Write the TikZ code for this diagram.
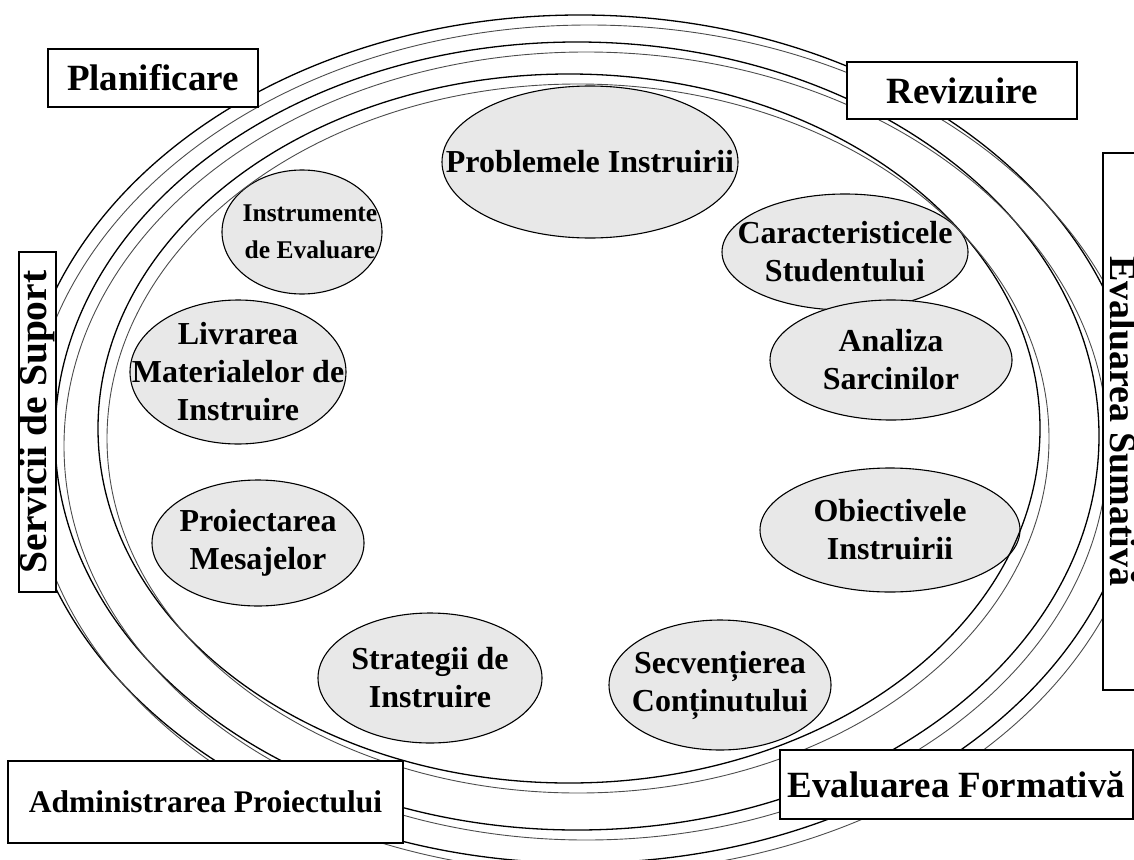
\documentclass[tikz,border=0pt]{standalone}
\usepackage{fontspec}
\setmainfont{Liberation Serif}
\usetikzlibrary{shapes.geometric,positioning}

\begin{document}
\begin{tikzpicture}[x=1pt,y=-1pt,
    stage/.style={draw,line width=1.1pt,fill=gray!18},
    stxt/.style={inner sep=0pt,align=center,
                 font=\bfseries\fontsize{32}{38}\selectfont},
    tag/.style={draw,line width=1.1pt,fill=white,inner sep=0pt,align=center,
                font=\bfseries\fontsize{37}{40}\selectfont},
    ring/.style={line width=1.3pt},
    shade/.style={line width=0.9pt,black!70},
  ]
  \useasboundingbox (0,0) rectangle (1134,859);

  %--- stages of the cycle ---
  \draw[stage] (590,162) ellipse [x radius=148pt, y radius=76pt]
    node[stxt] (prob) {Problemele Instruirii};
  \draw[stage] (845,252) ellipse [x radius=123pt, y radius=58pt]
    node[stxt] (car) {Caracteristicele\\Studentului};
  \draw[stage] (891,360) ellipse [x radius=121pt, y radius=60pt]
    node[stxt] (anal) {Analiza\\Sarcinilor};
  \draw[stage] (890,530) ellipse [x radius=130pt, y radius=62pt]
    node[stxt] (obi) {Obiectivele\\Instruirii};
  \draw[stage] (720,685) ellipse [x radius=111pt, y radius=65pt]
    node[stxt] (secv) {Secvențierea\\Conținutului};
  \draw[stage] (430,678) ellipse [x radius=112pt, y radius=65pt]
    node[stxt] (strat) {Strategii de\\Instruire};
  \draw[stage] (258,543) ellipse [x radius=106pt, y radius=63pt]
    node[stxt] (proi) {Proiectarea\\Mesajelor};
  \draw[stage] (238,372) ellipse [x radius=108pt, y radius=72pt]
    node[stxt] (livr) {Livrarea\\Materialelor de\\Instruire};
  \draw[stage] (302,232) ellipse [x radius=80pt, y radius=62pt];
  \node[stxt,font=\bfseries\fontsize{25.5}{37}\selectfont] (instr) at (310,232)
    {Instrumente\\de Evaluare};

  %--- rings, each with a grey copy ---
  \foreach \cx/\cy/\rx/\ry in {569/428.5/471/354.5, 577/436/522/394, 580/439/560/424}{
    \draw[ring] (\cx,\cy) ellipse [x radius=\rx pt, y radius=\ry pt];
    \draw[shade] (\cx+9,\cy+10) ellipse [x radius=\rx pt, y radius=\ry pt];
  }

  %--- labels round the rings ---
  \node[tag,minimum width=210pt,minimum height=58pt] (plan) at (153,78) {Planificare};
  \node[tag,minimum width=230pt,minimum height=57pt] (rev) at (962,90.5) {Revizuire};
  \node[tag,rotate=-90,minimum width=537pt,minimum height=42pt,
        font=\bfseries\fontsize{38}{40}\selectfont] (sum) at (1124,421.5) {Evaluarea Sumativă};
  \node[tag,rotate=90,minimum width=340pt,minimum height=37pt,
        font=\bfseries\fontsize{39.5}{40}\selectfont] (serv) at (37.5,422) {Servicii de Suport};
  \node[tag,minimum width=353pt,minimum height=69pt] (form) at (956.5,784.5) {Evaluarea Formativă};
  \node[tag,minimum width=395pt,minimum height=82pt,
        font=\bfseries\fontsize{31.5}{36}\selectfont] (admin) at (205.5,802) {Administrarea Proiectului};
\end{tikzpicture}
\end{document}
